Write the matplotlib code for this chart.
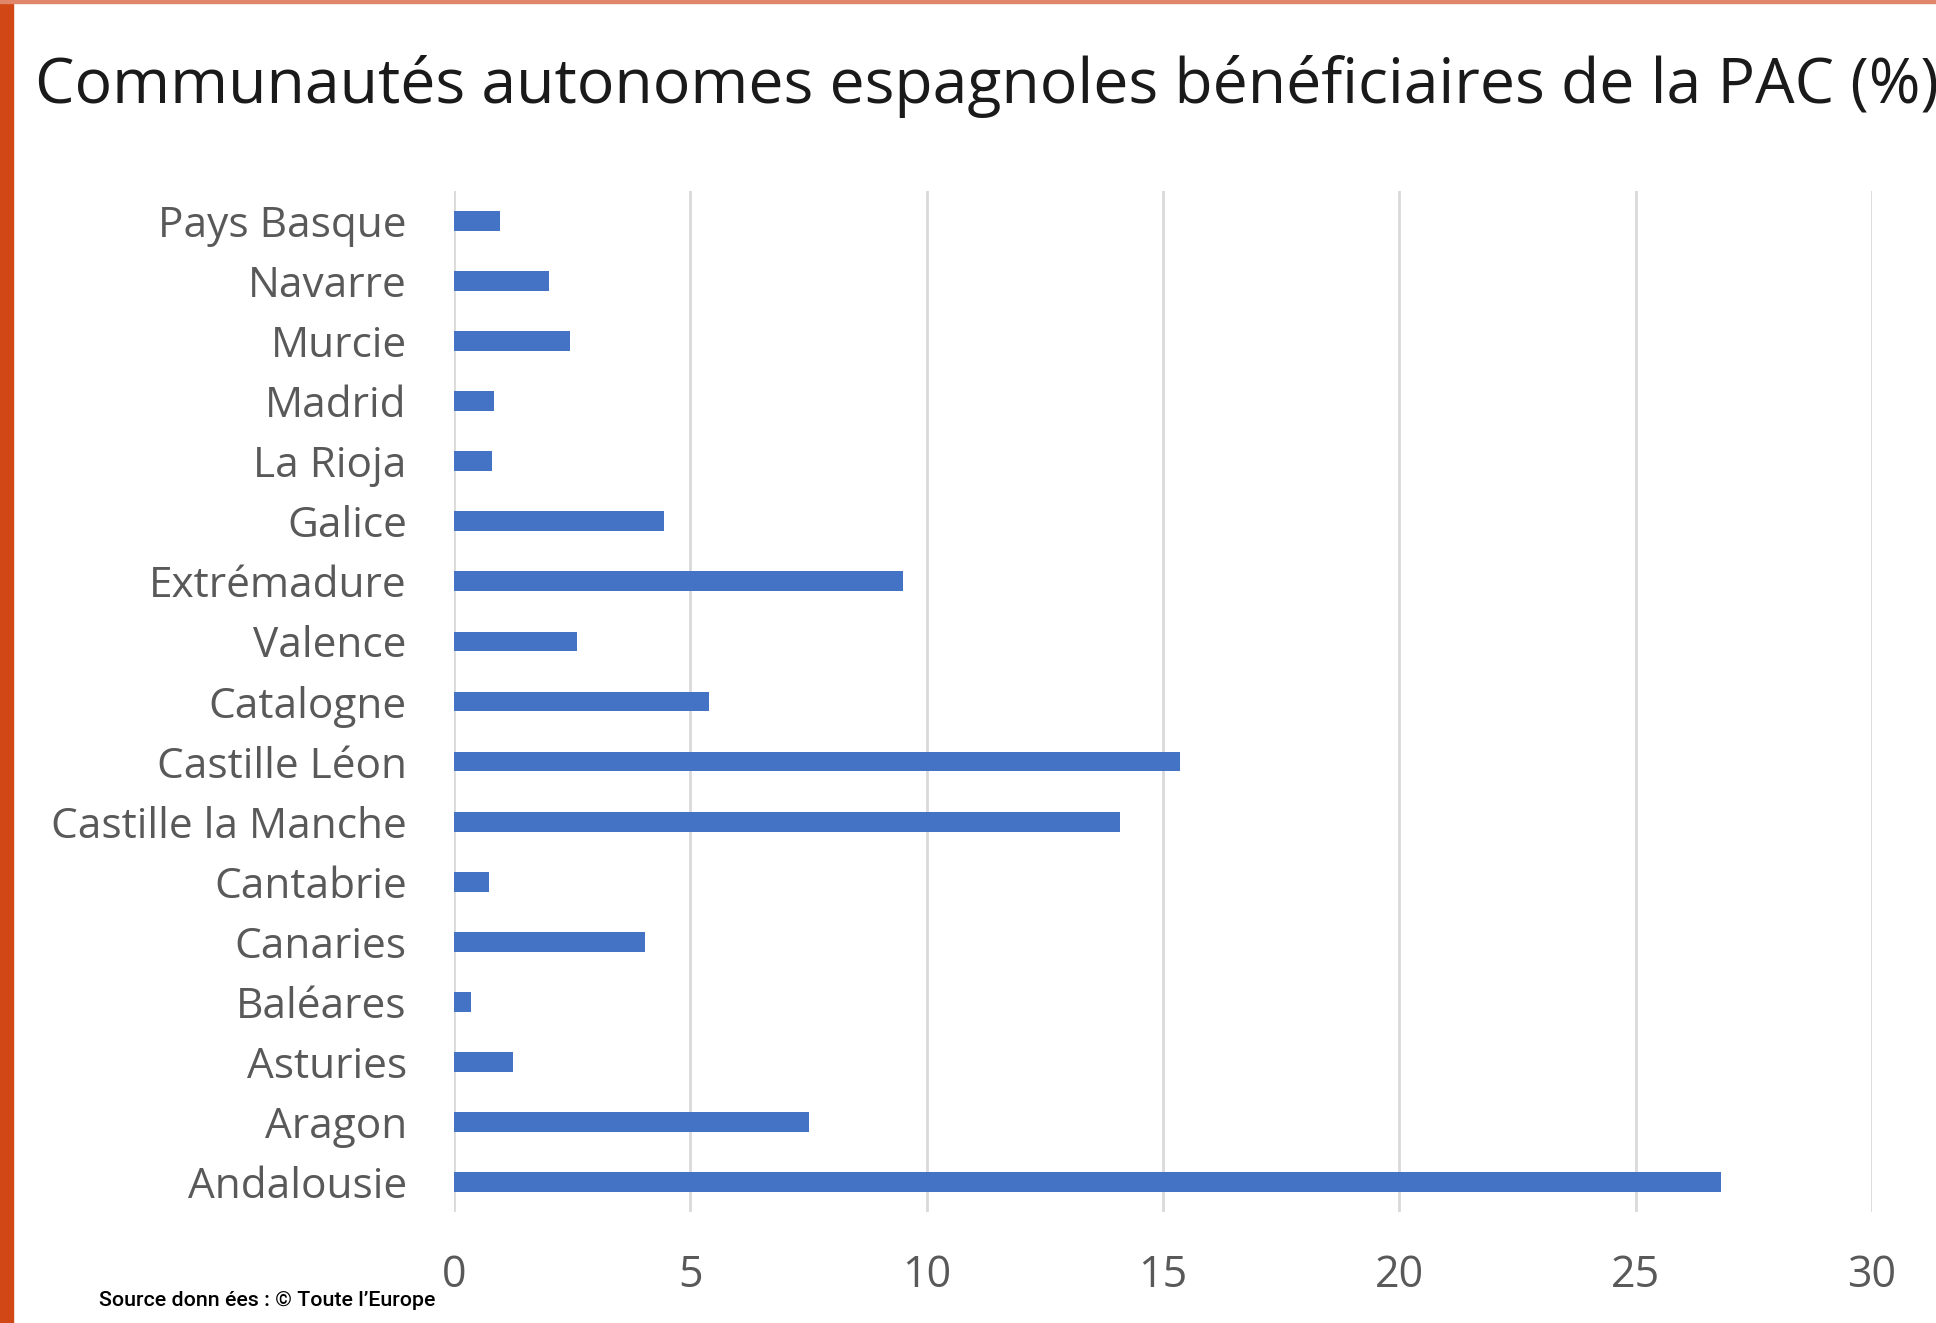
import matplotlib
matplotlib.use("Agg")
from matplotlib import pyplot as plt
from matplotlib.patches import Rectangle

# regions listed from the bottom of the chart to the top
regions = ["Andalousie", "Aragon", "Asturies", "Baléares", "Canaries",
           "Cantabrie", "Castille la Manche", "Castille Léon", "Catalogne",
           "Valence", "Extrémadure", "Galice", "La Rioja", "Madrid",
           "Murcie", "Navarre", "Pays Basque"]
shares = [26.8, 7.5, 1.25, 0.35, 4.05, 0.73, 14.1, 15.35, 5.4,
          2.6, 9.5, 4.45, 0.8, 0.85, 2.45, 2.0, 0.97]
xticks = [0, 5, 10, 15, 20, 25, 30]

title = "Communautés autonomes espagnoles bénéficiaires de la PAC (%)"
source = "Source donn ées : © Toute l\u2019Europe"

W, H = 1936, 1323
fig = plt.figure(figsize=(W / 100, H / 100), dpi=100)
fig.patch.set_facecolor("white")

# orange frame on the left and top edges
fig.add_artist(Rectangle((0, 0), 13 / W, 1, transform=fig.transFigure,
                         color="#D24716", zorder=5))
fig.add_artist(Rectangle((0, 1 - 3 / H), 1, 3 / H, transform=fig.transFigure,
                         color="#E0866A", zorder=5))

ax = fig.add_axes([454 / W, 1 - 1212 / H, (1872 - 454) / W, (1212 - 191) / H])
ax.barh(range(len(regions)), shares, height=0.33, color="#4472C4", zorder=3)

ax.set_xlim(0, 30)
ax.set_ylim(-0.5, len(regions) - 0.5)
ax.set_xticks(xticks)
ax.set_yticks(range(len(regions)))
ax.set_yticklabels(regions)
ax.grid(axis="x", color="#D9D9D9", linewidth=2, zorder=0)
for s in ax.spines.values():
    s.set_visible(False)
ax.tick_params(axis="both", length=0)
ax.tick_params(axis="y", pad=34, labelsize=30.5, labelcolor="#595959")
ax.tick_params(axis="x", pad=30, labelsize=31, labelcolor="#595959")
for lbl in ax.get_xticklabels() + ax.get_yticklabels():
    lbl.set_family("Open Sans")
for lbl in ax.get_yticklabels():
    lbl.set_verticalalignment("center_baseline")

fig.text(35 / W, 1 - 86 / H, title, fontsize=45, family="Open Sans",
         color="#1a1a1a", va="center", ha="left")
fig.text(99 / W, 1 - 1301 / H, source, fontsize=15.4, family="Roboto",
         fontweight="medium", color="black", va="center", ha="left")

fig.savefig("out.png", dpi=100, facecolor="white")
